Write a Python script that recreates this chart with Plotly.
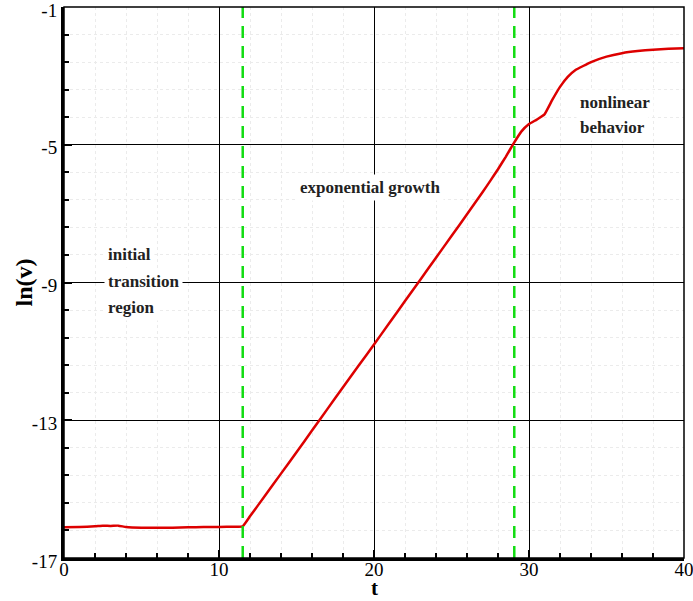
import plotly.graph_objects as go

# ---- data ----
t_vals = [0, 1, 2, 2.5, 3, 3.5, 4, 5, 6, 7, 8, 9, 10, 11, 11.53,
          12, 13, 14, 15, 16, 17, 18, 19, 20, 21, 22, 23, 24, 25, 26, 27,
          27.5, 28, 28.5, 29, 29.5, 30, 30.5, 31, 31.5, 32, 32.5, 33,
          34, 35, 36, 37, 38, 39, 40]
lnv_vals = [-16.11, -16.10, -16.08, -16.06, -16.07, -16.06, -16.10, -16.12, -16.12, -16.12, -16.11, -16.10, -16.10, -16.09, -16.08,
            -15.79, -15.17, -14.55, -13.93, -13.30, -12.67, -12.04, -11.42, -10.80, -10.17, -9.54, -8.91, -8.28, -7.65, -7.02, -6.38,
            -6.05, -5.71, -5.35, -4.97, -4.62, -4.40, -4.27, -4.12, -3.70, -3.32, -3.03, -2.83,
            -2.60, -2.44, -2.34, -2.28, -2.24, -2.215, -2.20]
boundary_t = [11.53, 29.05]
y_ticks = [-17, -13, -9, -5, -1]
y_tick_text = ["-17", "-13", "-9", "-5", "-1"]
x_ticks = [0, 10, 20, 30, 40]
x_tick_text = ["0", "10", "20", "30", "40"]

FONT = "Liberation Serif"

fig = go.Figure()
fig.add_trace(go.Scatter(x=t_vals, y=lnv_vals, mode="lines",
                         line=dict(color="#dd0000", width=2.5, shape="spline", smoothing=0.3),
                         showlegend=False, hoverinfo="skip"))

for bt in boundary_t:
    fig.add_trace(go.Scatter(x=[bt, bt], y=[-17, -1], mode="lines",
                             line=dict(color="#11dd11", width=2.5, dash="12px,8px"),
                             showlegend=False, hoverinfo="skip"))

axis_common = dict(showline=True, linecolor="black", linewidth=3,
                   ticks="inside", ticklen=8, tickwidth=2, tickcolor="black",
                   showgrid=True, gridcolor="black", gridwidth=1,
                   zeroline=False, automargin=False, ticklabeloverflow="allow",
                   tickfont=dict(family=FONT, size=19, color="black"))

fig.update_xaxes(range=[0, 40], tickvals=x_ticks, ticktext=x_tick_text, **axis_common,
                 ticklabelstandoff=-8,
                 minor=dict(dtick=2, tick0=0, ticks="inside", ticklen=5, tickwidth=1.5,
                            tickcolor="black", showgrid=True, gridcolor="#ebebeb",
                            griddash="dot", gridwidth=1))
fig.update_yaxes(range=[-17, -1], tickvals=y_ticks, ticktext=y_tick_text, **axis_common,
                 ticklabelshift=3,
                 minor=dict(dtick=0.8, tick0=-1, ticks="inside", ticklen=5, tickwidth=1.5,
                            tickcolor="black", showgrid=True, gridcolor="#ebebeb",
                            griddash="dot", gridwidth=1))

# axis titles
fig.add_annotation(x=0.5, y=0, xref="paper", yref="paper", text="<b>t</b>", showarrow=False,
                   xanchor="center", yanchor="bottom", yshift=-43, borderpad=0,
                   font=dict(family=FONT, size=21, color="black"))
fig.add_annotation(x=0, y=0.5, xref="paper", yref="paper", text="<b>ln(v)</b>", showarrow=False,
                   xanchor="center", yanchor="middle", xshift=-41, textangle=-90,
                   font=dict(family=FONT, size=24, color="black"))

# thin frame on top/right
fig.add_shape(type="rect", xref="paper", yref="paper", x0=0, y0=0, x1=1, y1=1,
              line=dict(color="black", width=1.5), layer="above")

ann_font = dict(family=FONT, size=17, color="#222222")
labels = [
    ("<b>initial</b>", 2.6, -8.18, "left"),
    ("<b>transition</b>", 2.6, -8.98, "left"),
    ("<b>region</b>", 2.6, -9.74, "left"),
    ("<b>exponential growth</b>", 14.95, -6.25, "left"),
    ("<b>nonlinear</b>", 33.05, -3.76, "left"),
    ("<b>behavior</b>", 33.05, -4.51, "left"),
]
for txt, x, y, al in labels:
    fig.add_annotation(x=x, y=y, text=txt, showarrow=False, xanchor="left", yanchor="middle",
                       align=al, font=ann_font, bgcolor="white", borderpad=3)

fig.update_layout(width=693, height=601,
                  margin=dict(l=64, r=9, t=7, b=43),
                  plot_bgcolor="white", paper_bgcolor="white",
                  font=dict(family=FONT, color="black"))

fig.write_html("out.html")
